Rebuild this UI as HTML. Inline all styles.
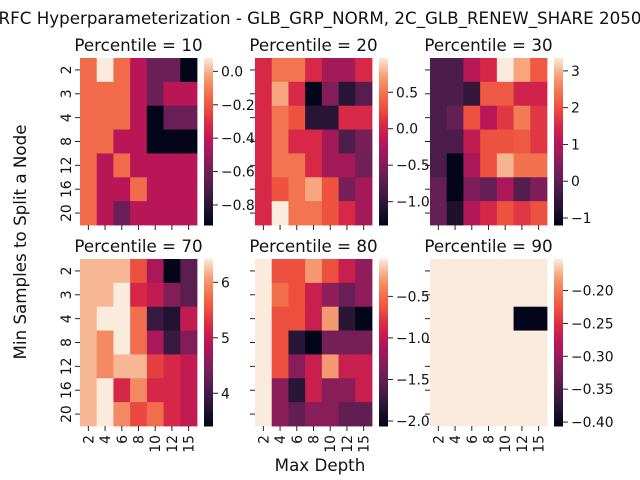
<!DOCTYPE html>
<html><head><meta charset="utf-8"><style>
html,body{margin:0;padding:0;background:#fff}
svg{display:block;font-family:"DejaVu Sans","Liberation Sans",sans-serif}
</style></head><body>
<svg id="fig" width="640" height="480" viewBox="0 0 640 480">
<rect width="640" height="480" fill="#fff"/>
<text x="320" y="24" font-size="16.7" text-anchor="middle" fill="#111">RFC Hyperparameterization - GLB_GRP_NORM, 2C_GLB_RENEW_SHARE 2050</text>
<text transform="translate(26,242) rotate(-90)" font-size="16.7" text-anchor="middle" fill="#111">Min Samples to Split a Node</text>
<text x="320" y="471" font-size="16.7" text-anchor="middle" fill="#111">Max Depth</text>
<g id="plots"></g>
</svg>
<script>
const maxDepths = ["2","4","6","8","10","12","15"];
const minSamples = ["2","3","4","8","12","16","20"];
const percentiles = [10,20,30,70,80,90];
const vmins = [-0.92,-1.32,-1.19,3.41,-2.06,-0.406];
const vmaxs = [0.08,0.97,3.35,6.42,-0.05,-0.152];
const cbTicks = [
 [0.0,-0.2,-0.4,-0.6,-0.8],
 [0.5,0.0,-0.5,-1.0],
 [3,2,1,0,-1],
 [6,5,4],
 [-0.5,-1.0,-1.5,-2.0],
 [-0.20,-0.25,-0.30,-0.35,-0.40]
];
const cbLabels = [
 ["0.0","−0.2","−0.4","−0.6","−0.8"],
 ["0.5","0.0","−0.5","−1.0"],
 ["3","2","1","0","−1"],
 ["6","5","4"],
 ["−0.5","−1.0","−1.5","−2.0"],
 ["−0.20","−0.25","−0.30","−0.35","−0.40"]
];
const p10 = [
 [-0.15,0.08,-0.15,-0.42,-0.62,-0.62,-0.92],
 [-0.15,-0.15,-0.15,-0.42,-0.62,-0.42,-0.42],
 [-0.15,-0.15,-0.15,-0.42,-0.92,-0.62,-0.62],
 [-0.15,-0.15,-0.42,-0.42,-0.92,-0.92,-0.92],
 [-0.15,-0.42,-0.15,-0.42,-0.42,-0.42,-0.42],
 [-0.15,-0.42,-0.42,-0.15,-0.42,-0.42,-0.42],
 [-0.15,-0.42,-0.62,-0.42,-0.42,-0.42,-0.42]
];
const p20 = [
 [0.05,0.5,0.5,0.05,-0.3,-0.3,0.05],
 [0.05,0.75,0.05,-1.32,-0.5,-1.05,-0.75],
 [0.05,0.5,0.3,-1.05,-1.05,0.05,0.05],
 [0.05,0.5,0.05,0.05,-0.3,-0.8,-0.55],
 [0.05,0.5,0.5,0.05,-0.3,-0.3,-0.6],
 [0.05,0.3,0.5,0.75,0.3,-0.55,-0.3],
 [0.05,0.97,0.5,0.5,0.3,0.05,-0.3]
];
const p30 = [
 [-0.2,-0.2,1.1,1.5,3.35,2.9,2.1],
 [-0.2,-0.2,-0.5,2.1,2.1,1.4,1.4],
 [-0.2,0.1,2.0,1.1,1.7,2.5,1.7],
 [-0.2,-0.2,1.2,2.0,2.0,2.1,1.7],
 [-0.2,-1.19,0.9,2.0,3.0,2.4,2.4],
 [0.1,-1.19,0.4,0.1,0.9,-0.1,0.4],
 [0.1,-0.8,1.0,1.5,2.0,1.7,2.0]
];
const p70 = [
 [6.2,6.2,6.2,5.5,4.8,3.41,4.2],
 [6.2,6.2,6.42,5.2,5.0,4.5,4.2],
 [6.2,6.42,6.42,5.75,3.9,3.7,5.0],
 [6.2,5.95,6.42,5.75,4.8,3.9,4.5],
 [6.2,5.95,6.2,6.2,5.4,5.2,5.0],
 [6.2,6.42,5.2,5.95,5.2,5.2,5.0],
 [6.2,6.42,5.95,5.45,5.75,5.2,5.0]
];
const p80 = [
 [-0.05,-0.66,-0.66,-0.3,-0.66,-0.96,-1.26],
 [-0.05,-0.5,-0.66,-0.96,-1.26,-1.46,-1.26],
 [-0.05,-0.66,-0.66,-0.96,-0.3,-1.82,-2.06],
 [-0.05,-0.66,-1.82,-2.06,-1.4,-1.4,-1.4],
 [-0.05,-0.66,-1.3,-0.96,-0.3,-0.96,-0.96],
 [-0.05,-1.3,-1.82,-0.96,-1.3,-1.3,-0.96],
 [-0.05,-1.3,-1.5,-1.3,-1.3,-1.5,-1.5]
];
const p90 = [
 [-0.152,-0.152,-0.152,-0.152,-0.152,-0.152,-0.152],
 [-0.152,-0.152,-0.152,-0.152,-0.152,-0.152,-0.152],
 [-0.152,-0.152,-0.152,-0.152,-0.152,-0.406,-0.406],
 [-0.152,-0.152,-0.152,-0.152,-0.152,-0.152,-0.152],
 [-0.152,-0.152,-0.152,-0.152,-0.152,-0.152,-0.152],
 [-0.152,-0.152,-0.152,-0.152,-0.152,-0.152,-0.152],
 [-0.152,-0.152,-0.152,-0.152,-0.152,-0.152,-0.152]
];
const panelData = [p10,p20,p30,p70,p80,p90];

const rocket = ["#03051a","#221331","#451c47","#6a1f56","#921c5b","#b91657","#d92847","#ed503e","#f37651","#f6a47b","#faebdd"];
function hex(c){return [1,3,5].map(i=>parseInt(c.substr(i,2),16));}
function cmap(t){
  t=Math.max(0,Math.min(1,t));
  const p=t*(rocket.length-1), i=Math.min(Math.floor(p),rocket.length-2), f=p-i;
  const a=hex(rocket[i]), b=hex(rocket[i+1]);
  return "rgb("+a.map((v,k)=>Math.round(v+(b[k]-v)*f)).join(",")+")";
}
const NS="http://www.w3.org/2000/svg";
function mk(tag,attrs,parent){const e=document.createElementNS(NS,tag);for(const k in attrs)e.setAttribute(k,attrs[k]);parent.appendChild(e);return e;}
const root=document.getElementById("plots");
const lefts=[80,255,430], tops=[58,259], W=117, H=167;
panelData.forEach((data,pi)=>{
  const col=pi%3,row=Math.floor(pi/3);
  const x0=lefts[col], y0=tops[row];
  const vmin=vmins[pi], vmax=vmaxs[pi];
  const g=mk("g",{},root);
  
  
  const nx=maxDepths.length, ny=minSamples.length, cw=W/nx, ch=H/ny;
  const xs=i=>x0+i*cw, ys=j=>y0+j*ch;
  data.forEach((r,j)=>r.forEach((v,i)=>{
    const c=mk("rect",{x:xs(i),y:ys(j),width:cw+0.4,height:ch+0.4,fill:cmap((v-vmin)/(vmax-vmin))},g);
    
    
  }));
  const t=mk("text",{x:x0+W/2,y:y0-7,"font-size":"16.7","text-anchor":"middle",fill:"#111"},g);
  t.textContent="Percentile = "+percentiles[pi];
  
  
  minSamples.forEach((s,j)=>{
    const yy=ys(j)+ch/2;
    mk("line",{x1:x0-5,x2:x0,y1:yy,y2:yy,stroke:"#222","stroke-width":1},g);
    if(col===0){
      const l=mk("text",{transform:"translate("+(x0-9)+","+yy+") rotate(-90)","font-size":"13.9","text-anchor":"middle",fill:"#111"},g);
      l.textContent=s;
      
      
    }
  });
  maxDepths.forEach((d,i)=>{
    const xx=xs(i)+cw/2;
    mk("line",{x1:xx,x2:xx,y1:y0+H,y2:y0+H+5,stroke:"#222","stroke-width":1},g);
    if(row===1){
      const l=mk("text",{transform:"translate("+(xx+5)+","+(y0+H+9)+") rotate(-90)","font-size":"13.9","text-anchor":"end",fill:"#111"},g);
      l.textContent=d;
      
      
    }
  });
  const cx=x0+W+7, cwid=9;
  const cb=mk("g",{},g);
  
  
  const N=60;
  for(let k=0;k<N;k++){
    mk("rect",{x:cx,y:y0+H*k/N,width:cwid,height:H/N+0.5,fill:cmap(1-(k+0.5)/N)},cb);
  }
  const cy=v=>y0+H*(vmax-v)/(vmax-vmin);
  cbTicks[pi].forEach((v,k)=>{
    const yy=cy(v);
    mk("line",{x1:cx+cwid,x2:cx+cwid+5,y1:yy,y2:yy,stroke:"#222","stroke-width":1},cb);
    const l=mk("text",{x:cx+cwid+8,y:yy+5,"font-size":"13.9",fill:"#111"},cb);
    l.textContent=cbLabels[pi][k];
    
    
  });
});
</script>
</body></html>
